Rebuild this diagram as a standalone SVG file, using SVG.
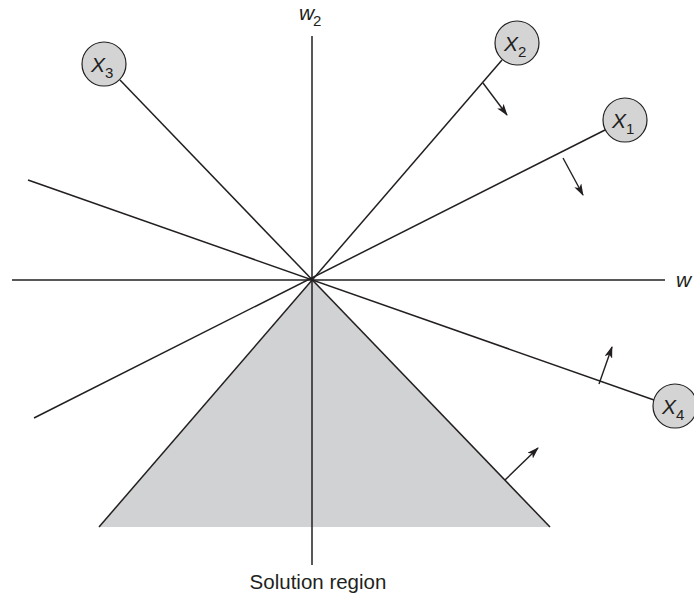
<svg xmlns="http://www.w3.org/2000/svg" width="694" height="594" viewBox="0 0 694 594">
<style>
.ln{stroke:#231f20;stroke-width:1.5;fill:none}
.ar{stroke:#231f20;stroke-width:1.4;fill:none;marker-end:url(#ah)}
.nd{fill:#d4d4d5;stroke:#231f20;stroke-width:1.2}
.t{font-family:"Liberation Sans",Arial,sans-serif;fill:#231f20}
.it{font-style:italic}
.big{font-size:21px}
.sub{font-size:15px}
</style>
<defs>
<marker id="ah" viewBox="0 0 12 8" refX="11" refY="4" markerWidth="12" markerHeight="8" markerUnits="userSpaceOnUse" orient="auto">
<path d="M0,0 L12,4 L0,8 L3,4 Z" fill="#231f20"/>
</marker>
</defs>
<polygon id="solution-region" points="312,280 99,527 550,527" fill="#d1d2d4"/>
<g id="connectors">
<line class="ln" x1="312" y1="36" x2="312" y2="565"/>
<line class="ln" x1="12" y1="280" x2="665" y2="280"/>
<line class="ln" x1="34" y1="418" x2="605" y2="130"/>
<line class="ln" x1="99" y1="527" x2="502" y2="60"/>
<line class="ln" x1="550" y1="527" x2="120" y2="80"/>
<line class="ln" x1="28" y1="180" x2="654" y2="400"/>
<line class="ar" x1="483" y1="83" x2="507" y2="115"/>
<line class="ar" x1="563" y1="158" x2="583" y2="195"/>
<line class="ar" x1="599" y1="384" x2="612" y2="347"/>
<line class="ar" x1="505" y1="480" x2="538" y2="448"/>
</g>
<g id="x1"><circle class="nd" cx="625" cy="120" r="22"/><text class="t it big" x="612" y="128">X</text><text class="t sub" x="626" y="134">1</text></g>
<g id="x2"><circle class="nd" cx="517" cy="43" r="22"/><text class="t it big" x="504" y="51">X</text><text class="t sub" x="518" y="57">2</text></g>
<g id="x3"><circle class="nd" cx="104" cy="64" r="22"/><text class="t it big" x="91" y="72">X</text><text class="t sub" x="105" y="78">3</text></g>
<g id="x4"><circle class="nd" cx="675" cy="406" r="22"/><text class="t it big" x="662" y="414">X</text><text class="t sub" x="676" y="420">4</text></g>
<g id="labels">
<text class="t it big" x="299" y="20">w</text><text class="t sub" x="313" y="26">2</text>
<text class="t it big" x="676" y="287">w</text>
<text class="t" x="318" y="589" font-size="20.5" text-anchor="middle">Solution region</text>
</g>
</svg>
